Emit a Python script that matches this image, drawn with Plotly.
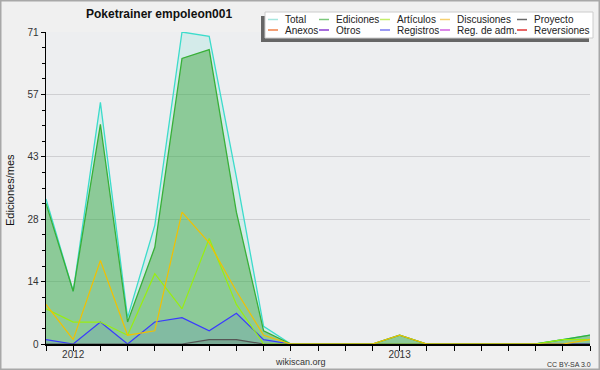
import plotly.graph_objects as go

# ---- data (monthly, Dec 2011 .. Aug 2013) ----
months = ["2011-12", "2012-01", "2012-02", "2012-03", "2012-04", "2012-05", "2012-06",
          "2012-07", "2012-08", "2012-09", "2012-10", "2012-11", "2012-12", "2013-01",
          "2013-02", "2013-03", "2013-04", "2013-05", "2013-06", "2013-07", "2013-08"]
month_labels = ["", "2012", "", "", "", "", "", "", "", "", "", "", "", "2013",
                "", "", "", "", "", "", ""]
total       = [33, 12, 55, 6, 27, 71, 70, 38, 4, 0, 0, 0, 0, 2, 0, 0, 0, 0, 0, 1, 2]
ediciones   = [32, 12, 50, 5, 22, 65, 67, 30, 3, 0, 0, 0, 0, 2, 0, 0, 0, 0, 0, 1, 2]
articulos   = [8, 5, 5, 2, 16, 8, 24, 9, 0, 0, 0, 0, 0, 0, 0, 0, 0, 0, 0, 1, 1]
discusiones = [9, 1, 19, 2, 3, 30, 23, 12, 2, 0, 0, 0, 0, 2, 0, 0, 0, 0, 0, 0, 1]
registros   = [1, 0, 5, 0, 5, 6, 3, 7, 1, 0, 0, 0, 0, 0, 0, 0, 0, 0, 0, 0, 0]
proyecto    = [0, 0, 0, 0, 0, 0, 1, 1, 0, 0, 0, 0, 0, 0, 0, 0, 0, 0, 0, 0, 0]

y_max = 71
y_major = [0, 14.2, 28.4, 42.6, 56.8, 71]
y_major_text = ["0", "14", "28", "43", "57", "71"]
y_minor = [71 * k / 20 for k in range(21)]

legend_rows = [["Total", "Ediciones", "Artículos", "Discusiones", "Proyecto"],
               ["Anexos", "Otros", "Registros", "Reg. de adm.", "Reversiones"]]
legend_colors = [["#a6e6de", "#7cc87c", "#c4ee6a", "#f6d070", "#6a6a6a"],
                 ["#f08048", "#8a3cd0", "#7a7af0", "#d060e0", "#e03434"]]

# ---- layout geometry ----
W, H = 600, 370
ML, MR, MT, MB = 46, 10, 32, 26
PW, PH = W - ML - MR, H - MT - MB


def px(x):
    return (x - ML) / PW


def py(y):
    return (H - MB - y) / PH


FONT = "Liberation Sans, Arial, sans-serif"

fig = go.Figure()

fig.add_trace(go.Scatter(x=months, y=total, mode="lines", fill="tozeroy",
                         line=dict(color="#3cdccb", width=1.3),
                         fillcolor="rgba(64,220,200,0.14)", showlegend=False))
fig.add_trace(go.Scatter(x=months, y=ediciones, mode="lines", fill="tozeroy",
                         line=dict(color="#38b038", width=1.3),
                         fillcolor="rgba(60,165,60,0.47)", showlegend=False))
fig.add_trace(go.Scatter(x=months, y=registros, mode="lines", fill="tozeroy",
                         line=dict(color="#3a3aff", width=1.2),
                         fillcolor="rgba(70,90,230,0.13)", showlegend=False))
fig.add_trace(go.Scatter(x=months, y=proyecto, mode="lines", fill="tozeroy",
                         line=dict(color="#555555", width=1.2),
                         fillcolor="rgba(70,70,70,0.15)", showlegend=False))
fig.add_trace(go.Scatter(x=months, y=articulos, mode="lines",
                         line=dict(color="#99ee10", width=1.2), showlegend=False))
fig.add_trace(go.Scatter(x=months, y=discusiones, mode="lines",
                         line=dict(color="#f2c000", width=1.2), showlegend=False))

shapes = []
annotations = []

# outer frame
shapes.append(dict(type="rect", xref="paper", yref="paper",
                   x0=px(0.75), x1=px(W - 0.75), y0=py(0.75), y1=py(H - 0.75),
                   line=dict(color="#a8a8a8", width=1.5), layer="below"))

# legend shadow + box
shapes.append(dict(type="rect", xref="paper", yref="paper",
                   x0=px(261), x1=px(589), y0=py(16), y1=py(42),
                   fillcolor="#666666", line=dict(width=0)))
shapes.append(dict(type="rect", xref="paper", yref="paper",
                   x0=px(265), x1=px(593), y0=py(12), y1=py(38),
                   fillcolor="#ffffff", line=dict(color="#cccccc", width=1)))
col_x = [268, 319, 380, 440, 517]
row_y = [19.5, 30]
for r, row in enumerate(legend_rows):
    for c, name in enumerate(row):
        x0 = col_x[c]
        y0 = row_y[r]
        shapes.append(dict(type="line", xref="paper", yref="paper",
                           x0=px(x0), x1=px(x0 + 10), y0=py(y0), y1=py(y0),
                           line=dict(color=legend_colors[r][c], width=1.5)))
        annotations.append(dict(text=name, xref="paper", yref="paper",
                                x=px(x0 + 15), y=py(y0), xanchor="left", yanchor="middle",
                                showarrow=False,
                                font=dict(family=FONT, size=10, color="#222222")))

# title
annotations.append(dict(text="<b>Poketrainer empoleon001</b>", xref="paper", yref="paper",
                        x=px(159), y=py(14), xanchor="center", yanchor="middle",
                        showarrow=False, font=dict(family=FONT, size=12, color="#111111")))
# y axis title
annotations.append(dict(text="Ediciones/mes", xref="paper", yref="paper",
                        x=px(10), y=py(190), xanchor="center", yanchor="middle",
                        textangle=-90, showarrow=False,
                        font=dict(family=FONT, size=11, color="#111111")))
# footer
annotations.append(dict(text="wikiscan.org", xref="paper", yref="paper",
                        x=px(300), y=py(362), xanchor="center", yanchor="middle",
                        showarrow=False, font=dict(family=FONT, size=9, color="#333333")))
annotations.append(dict(text="CC BY-SA 3.0", xref="paper", yref="paper",
                        x=px(569), y=py(364), xanchor="center", yanchor="middle",
                        showarrow=False, font=dict(family=FONT, size=7, color="#333333")))

fig.update_layout(
    template="none",
    width=W, height=H,
    autosize=False,
    margin=dict(l=ML, r=MR, t=MT, b=MB, pad=0, autoexpand=False),
    paper_bgcolor="#f0f0f0",
    plot_bgcolor="#edeef0",
    showlegend=False,
    shapes=shapes,
    annotations=annotations,
    xaxis=dict(type="category", range=[0, len(months) - 1], automargin=False,
               tickmode="array", tickvals=months, ticktext=month_labels,
               ticks="outside", ticklen=5, tickcolor="#000000", tickwidth=1,
               ticklabelstandoff=-5,
               showline=True, linecolor="#000000", linewidth=1.5,
               showgrid=False, zeroline=False, layer="above traces",
               tickfont=dict(family=FONT, size=10, color="#333333"), fixedrange=True),
    yaxis=dict(range=[0, y_max], automargin=False,
               tickmode="array", tickvals=y_major, ticktext=y_major_text,
               ticks="outside", ticklen=4, tickcolor="#000000", tickwidth=1,
               showline=True, linecolor="#000000", linewidth=1.5,
               showgrid=True, gridcolor="#cfcfd2", gridwidth=1, zeroline=False,
               layer="above traces",
               minor=dict(tickmode="array", tickvals=y_minor, ticks="outside", ticklen=3,
                          tickcolor="#000000", showgrid=False),
               tickfont=dict(family=FONT, size=10, color="#333333"), fixedrange=True),
)

fig.write_html("out.html", config={"displayModeBar": False, "staticPlot": True},
               post_script="document.body.style.margin='0';document.body.style.overflow='hidden';")
